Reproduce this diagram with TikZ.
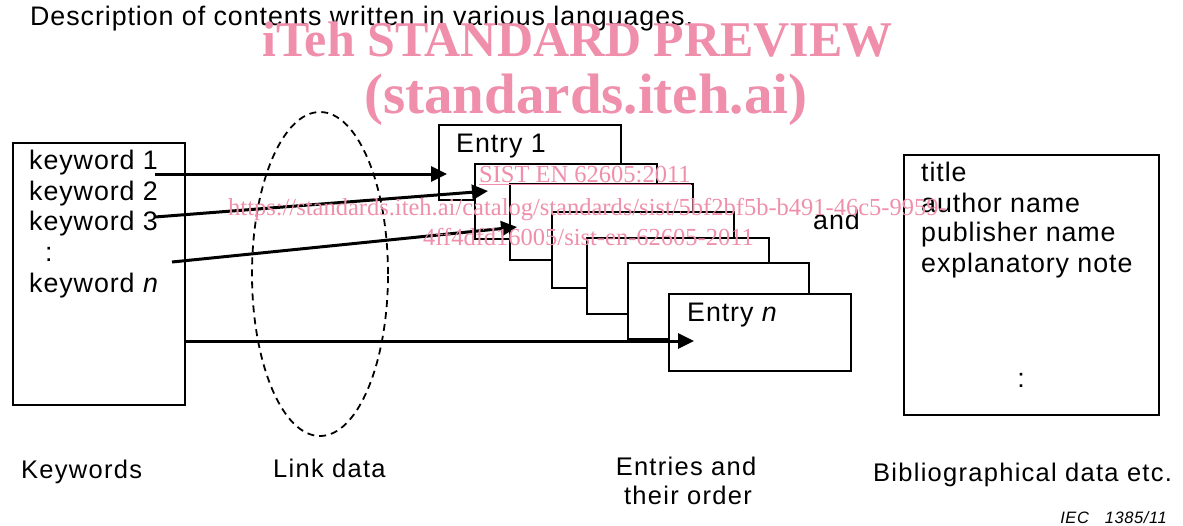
\documentclass[tikz,border=0pt]{standalone}
\usepackage{fontspec}
\setmainfont{Liberation Sans}[LetterSpace=3.5]
\newfontfamily\lblfont{Liberation Sans}[LetterSpace=5]
\newfontfamily\wmfont{Liberation Serif}
\usetikzlibrary{arrows.meta,shapes.geometric}
\definecolor{wmpink}{RGB}{239,143,171}
\begin{document}
\begin{tikzpicture}[x=1pt,y=-1pt,
  box/.style={draw, line width=2.4pt, fill=white, anchor=north west, inner sep=0pt},
  lbl/.style={anchor=base west, inner sep=0pt, font=\fontsize{26.8}{30}\selectfont},
  caplbl/.style={anchor=base west, inner sep=0pt, font=\lblfont\fontsize{25.5}{30}\selectfont},
  conn/.style={line width=3pt, -{Triangle[length=16pt,width=15pt]}},
  linkell/.style={draw, ellipse, dash pattern=on 7pt off 5pt, line width=1.8pt, inner sep=0pt},
  wm/.style={text=wmpink, inner sep=0pt, anchor=base west}]
\useasboundingbox (0,0) rectangle (1183,525);

% title
\node[lbl] (title) at (30,25) {Description of contents written in various languages.};

% keywords box
\node[box, minimum width=172pt, minimum height=262pt] (kwbox) at (12,142) {};
\node[lbl] (kw1) at (29,169) {keyword 1};
\node[lbl] (kw2) at (29,200) {keyword 2};
\node[lbl] (kw3) at (29,230.5) {keyword 3};
\node[lbl] (kwdots) at (45,261) {:};
\node[lbl] (kwn) at (29,292) {keyword \textit{n}};

% link data ellipse
\node[linkell, minimum width=136pt, minimum height=324pt] (link) at (320,274) {};

% entries
\node[box, minimum width=182pt, minimum height=75pt] (e1) at (438,124) {};
\node[box, minimum width=182pt, minimum height=75pt] (e2) at (474,163) {};
\node[box, minimum width=183pt, minimum height=76pt] (e3) at (509,183) {};
\node[box, minimum width=182pt, minimum height=76pt] (e4) at (551,211) {};
\node[box, minimum width=182pt, minimum height=76pt] (e5) at (586,237) {};
\node[box, minimum width=181pt, minimum height=76pt] (e6) at (627,262) {};
\node[box, minimum width=182pt, minimum height=77pt] (en) at (668,293) {};
\node[lbl] (e1t) at (456,152) {Entry 1};
\node[lbl] (ent) at (687,321.5) {Entry \textit{n}};

\node[lbl] (and) at (813,229) {and};

% bibliographical box
\node[box, minimum width=255pt, minimum height=260pt] (bib) at (903,154) {};
\node[lbl] (b1) at (921,181.5) {title};
\node[lbl] (b2) at (921,212.5) {author name};
\node[lbl] (b3) at (921,241.5) {publisher name};
\node[lbl] (b4) at (921,272.5) {explanatory note};
\node[lbl, anchor=base] (b5) at (1021,387) {:};

% connectors
\coordinate (s1) at (155,174);
\coordinate (t1) at (447,174);
\coordinate (s2) at (155,217);
\coordinate (t2) at (488,191);
\coordinate (s3) at (172,262);
\coordinate (t3) at (517,227);
\coordinate (s4) at (184,341);
\coordinate (t4) at (694,341);
\draw[conn] (s1) -- (t1);
\draw[conn] (s2) -- (t2);
\draw[conn] (s3) -- (t3);
\draw[conn] (s4) -- (t4);

% bottom labels
\node[caplbl] (lk) at (21,478) {Keywords};
\node[caplbl] (ll) at (273,477) {Link data};
\node[caplbl, anchor=base] (le1) at (686,475) {Entries and};
\node[caplbl, anchor=base] (le2) at (688,504) {their order};
\node[caplbl] (lb) at (873,481) {Bibliographical data etc.};
\node[inner sep=0pt, anchor=base east, font=\fontsize{16.5}{18}\selectfont\itshape] (iec) at (1167,523) {IEC\hspace{16pt}1385/11};

% watermark
\node[wm, font=\wmfont\bfseries\fontsize{50}{50}\selectfont] (wm1) at (262,56) {iTeh STANDARD PREVIEW};
\node[wm, font=\wmfont\bfseries\fontsize{57}{57}\selectfont] (wm2) at (364,113) {(standards.iteh.ai)};
\node[wm, font=\wmfont\fontsize{24.5}{25}\selectfont] (wm3) at (479,182) {\underline{SIST EN 62605:2011}};
\node[wm, font=\wmfont\fontsize{24.5}{25}\selectfont] (wm4) at (228,215) {https://standards.iteh.ai/catalog/standards/sist/5bf2bf5b-b491-46c5-9959-};
\node[wm, font=\wmfont\fontsize{24.5}{25}\selectfont] (wm5) at (423,245) {4ff4dfd16005/sist-en-62605-2011};
\end{tikzpicture}
\end{document}
